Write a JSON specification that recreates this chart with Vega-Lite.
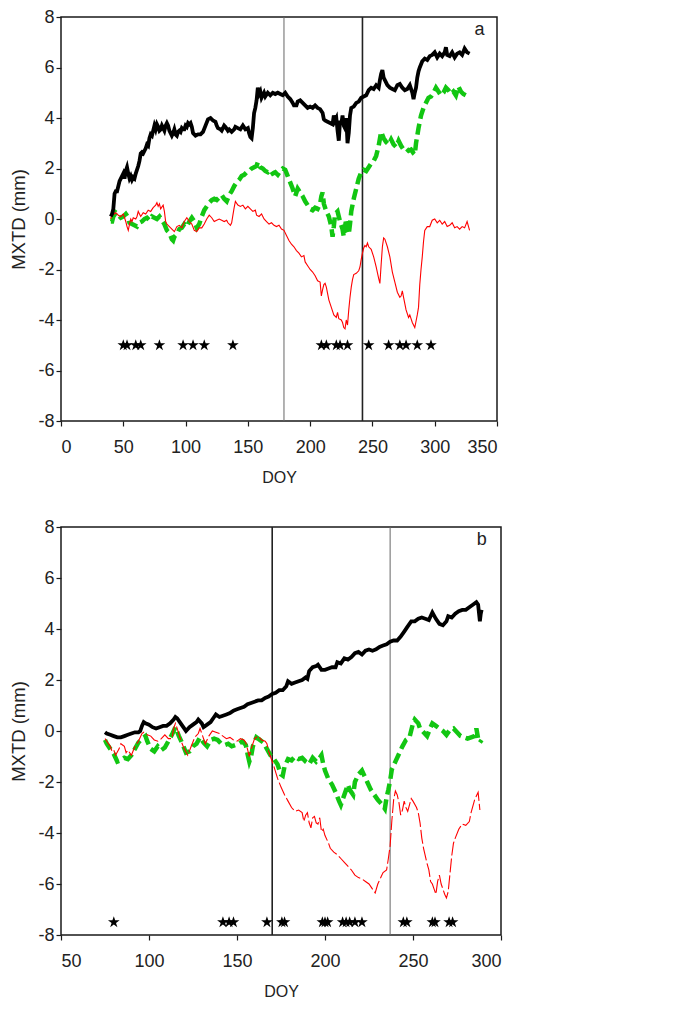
{
  "$schema": "https://vega.github.io/schema/vega-lite/v6.json",
  "background": "white",
  "padding": {"left": 9, "top": 7, "right": 5, "bottom": 5},
  "spacing": 31,
  "resolve": {"scale": {"x": "independent", "y": "independent"}},
  "config": {
    "view": {"stroke": "#1a1a1a", "strokeWidth": 1.5},
    "axis": {"grid": false, "domain": false, "tickColor": "#1a1a1a", "tickSize": 5, "tickWidth": 1.2,
      "labelFont": "Liberation Sans", "labelFontSize": 18, "labelColor": "#222",
      "labelExpr": "replace(datum.label, '−', '-')",
      "titleFont": "Liberation Sans", "titleFontWeight": "normal", "titleColor": "#222"},
    "axisX": {"labelPadding": 12, "titlePadding": 13, "titleFontSize": 16},
    "axisY": {"labelPadding": 2, "titlePadding": 9, "titleFontSize": 18.5}
  },
  "datasets": {
    "a_black": [{"doy":40,"v":0.1},{"doy":41,"v":0.2},{"doy":42,"v":0.4},{"doy":43,"v":1.0},{"doy":44,"v":1.1},{"doy":45,"v":1.1},{"doy":46,"v":1.3},{"doy":47,"v":1.5},{"doy":48,"v":1.6},{"doy":49,"v":1.7},{"doy":50,"v":1.8},{"doy":51,"v":1.6},{"doy":52,"v":1.9},{"doy":53,"v":2.05},{"doy":54,"v":1.8},{"doy":55,"v":1.6},{"doy":56,"v":1.7},{"doy":57,"v":1.55},{"doy":58,"v":1.65},{"doy":59,"v":1.6},{"doy":60,"v":1.8},{"doy":62,"v":2.1},{"doy":63,"v":2.3},{"doy":64,"v":2.6},{"doy":65,"v":2.65},{"doy":66,"v":2.6},{"doy":68,"v":2.8},{"doy":69,"v":2.95},{"doy":70,"v":2.9},{"doy":71,"v":3.2},{"doy":72,"v":3.35},{"doy":73,"v":3.3},{"doy":74,"v":3.5},{"doy":75,"v":3.7},{"doy":76,"v":3.55},{"doy":77,"v":3.75},{"doy":78,"v":3.65},{"doy":79,"v":3.5},{"doy":80,"v":3.55},{"doy":81,"v":3.7},{"doy":82,"v":3.6},{"doy":83,"v":3.5},{"doy":84,"v":3.7},{"doy":85,"v":3.8},{"doy":86,"v":3.7},{"doy":87,"v":3.5},{"doy":88,"v":3.4},{"doy":89,"v":3.3},{"doy":90,"v":3.4},{"doy":91,"v":3.55},{"doy":92,"v":3.35},{"doy":93,"v":3.3},{"doy":94,"v":3.45},{"doy":95,"v":3.5},{"doy":96,"v":3.45},{"doy":97,"v":3.6},{"doy":98,"v":3.55},{"doy":99,"v":3.55},{"doy":100,"v":3.7},{"doy":101,"v":3.65},{"doy":102,"v":3.8},{"doy":103,"v":3.75},{"doy":104,"v":3.8},{"doy":105,"v":3.65},{"doy":106,"v":3.4},{"doy":107,"v":3.35},{"doy":108,"v":3.3},{"doy":110,"v":3.35},{"doy":112,"v":3.35},{"doy":114,"v":3.45},{"doy":116,"v":3.7},{"doy":118,"v":3.95},{"doy":120,"v":4.0},{"doy":122,"v":3.9},{"doy":124,"v":3.85},{"doy":125,"v":3.7},{"doy":126,"v":3.6},{"doy":128,"v":3.55},{"doy":129,"v":3.5},{"doy":131,"v":3.7},{"doy":132,"v":3.65},{"doy":134,"v":3.5},{"doy":135,"v":3.55},{"doy":137,"v":3.45},{"doy":139,"v":3.55},{"doy":140,"v":3.65},{"doy":142,"v":3.6},{"doy":144,"v":3.55},{"doy":146,"v":3.7},{"doy":148,"v":3.55},{"doy":150,"v":3.6},{"doy":151,"v":3.4},{"doy":152,"v":3.25},{"doy":153,"v":3.2},{"doy":154,"v":3.6},{"doy":155,"v":4.2},{"doy":156,"v":4.4},{"doy":157,"v":4.7},{"doy":158,"v":5.2},{"doy":159,"v":4.95},{"doy":160,"v":5.05},{"doy":161,"v":4.8},{"doy":162,"v":4.9},{"doy":163,"v":5.0},{"doy":164,"v":4.85},{"doy":166,"v":5.0},{"doy":168,"v":4.9},{"doy":170,"v":5.0},{"doy":172,"v":4.95},{"doy":174,"v":5.0},{"doy":176,"v":4.95},{"doy":178,"v":4.9},{"doy":180,"v":5.0},{"doy":182,"v":4.85},{"doy":184,"v":4.75},{"doy":186,"v":4.6},{"doy":187,"v":4.5},{"doy":189,"v":4.5},{"doy":190,"v":4.65},{"doy":192,"v":4.7},{"doy":194,"v":4.6},{"doy":196,"v":4.5},{"doy":198,"v":4.4},{"doy":200,"v":4.45},{"doy":202,"v":4.4},{"doy":204,"v":4.5},{"doy":206,"v":4.4},{"doy":208,"v":4.35},{"doy":210,"v":4.2},{"doy":211,"v":3.95},{"doy":212,"v":3.9},{"doy":214,"v":3.85},{"doy":216,"v":3.8},{"doy":218,"v":3.75},{"doy":219,"v":4.1},{"doy":220,"v":3.9},{"doy":221,"v":4.0},{"doy":222,"v":3.5},{"doy":223,"v":3.1},{"doy":224,"v":3.9},{"doy":225,"v":3.75},{"doy":226,"v":4.1},{"doy":227,"v":3.7},{"doy":228,"v":3.6},{"doy":229,"v":4.0},{"doy":230,"v":3.0},{"doy":231,"v":3.4},{"doy":232,"v":4.1},{"doy":233,"v":4.4},{"doy":235,"v":4.45},{"doy":237,"v":4.6},{"doy":239,"v":4.65},{"doy":241,"v":4.8},{"doy":243,"v":4.85},{"doy":245,"v":4.9},{"doy":247,"v":5.1},{"doy":249,"v":5.2},{"doy":251,"v":5.15},{"doy":253,"v":5.3},{"doy":255,"v":5.2},{"doy":256,"v":5.5},{"doy":257,"v":5.75},{"doy":258,"v":5.9},{"doy":259,"v":5.6},{"doy":260,"v":5.5},{"doy":262,"v":5.3},{"doy":264,"v":5.2},{"doy":266,"v":5.15},{"doy":268,"v":5.1},{"doy":270,"v":5.3},{"doy":272,"v":5.35},{"doy":274,"v":5.2},{"doy":276,"v":5.1},{"doy":278,"v":5.15},{"doy":280,"v":5.3},{"doy":282,"v":5.0},{"doy":283,"v":4.75},{"doy":284,"v":5.0},{"doy":285,"v":5.2},{"doy":286,"v":5.6},{"doy":287,"v":5.85},{"doy":288,"v":6.0},{"doy":290,"v":6.25},{"doy":292,"v":6.35},{"doy":294,"v":6.3},{"doy":296,"v":6.45},{"doy":298,"v":6.5},{"doy":300,"v":6.6},{"doy":302,"v":6.4},{"doy":304,"v":6.55},{"doy":306,"v":6.45},{"doy":308,"v":6.6},{"doy":309,"v":6.8},{"doy":310,"v":6.5},{"doy":312,"v":6.45},{"doy":314,"v":6.6},{"doy":316,"v":6.4},{"doy":318,"v":6.55},{"doy":320,"v":6.6},{"doy":322,"v":6.5},{"doy":324,"v":6.75},{"doy":326,"v":6.6},{"doy":328,"v":6.55}],
    "a_green": [{"doy":40,"v":-0.1},{"doy":41,"v":-0.1},{"doy":42,"v":0.1},{"doy":44,"v":0.25},{"doy":46,"v":0.15},{"doy":48,"v":0.05},{"doy":50,"v":0.1},{"doy":52,"v":0.2},{"doy":54,"v":0.05},{"doy":55,"v":-0.15},{"doy":57,"v":-0.2},{"doy":59,"v":-0.25},{"doy":61,"v":-0.3},{"doy":63,"v":-0.15},{"doy":65,"v":-0.1},{"doy":67,"v":0.0},{"doy":69,"v":0.05},{"doy":71,"v":-0.05},{"doy":73,"v":0.1},{"doy":75,"v":0.05},{"doy":77,"v":0.0},{"doy":79,"v":0.1},{"doy":81,"v":-0.05},{"doy":83,"v":-0.2},{"doy":85,"v":-0.45},{"doy":87,"v":-0.55},{"doy":89,"v":-0.8},{"doy":90,"v":-0.85},{"doy":91,"v":-0.7},{"doy":93,"v":-0.6},{"doy":95,"v":-0.4},{"doy":97,"v":-0.35},{"doy":99,"v":-0.2},{"doy":101,"v":-0.3},{"doy":103,"v":-0.1},{"doy":105,"v":0.05},{"doy":107,"v":-0.1},{"doy":109,"v":-0.35},{"doy":111,"v":-0.2},{"doy":113,"v":0.1},{"doy":115,"v":0.35},{"doy":117,"v":0.5},{"doy":119,"v":0.65},{"doy":121,"v":0.75},{"doy":123,"v":0.8},{"doy":125,"v":0.75},{"doy":127,"v":0.85},{"doy":129,"v":0.95},{"doy":131,"v":0.8},{"doy":133,"v":0.7},{"doy":135,"v":0.95},{"doy":137,"v":1.1},{"doy":139,"v":1.3},{"doy":141,"v":1.45},{"doy":143,"v":1.55},{"doy":145,"v":1.7},{"doy":147,"v":1.75},{"doy":149,"v":1.85},{"doy":151,"v":1.9},{"doy":153,"v":2.0},{"doy":155,"v":2.05},{"doy":157,"v":2.1},{"doy":158,"v":2.25},{"doy":160,"v":2.05},{"doy":162,"v":2.0},{"doy":164,"v":1.9},{"doy":166,"v":1.85},{"doy":168,"v":1.95},{"doy":170,"v":1.8},{"doy":172,"v":1.85},{"doy":174,"v":1.75},{"doy":176,"v":1.9},{"doy":178,"v":2.0},{"doy":180,"v":1.95},{"doy":182,"v":1.7},{"doy":184,"v":1.45},{"doy":186,"v":1.2},{"doy":188,"v":0.9},{"doy":190,"v":1.2},{"doy":192,"v":1.05},{"doy":194,"v":0.9},{"doy":196,"v":0.7},{"doy":198,"v":0.55},{"doy":200,"v":0.4},{"doy":202,"v":0.35},{"doy":204,"v":0.45},{"doy":206,"v":0.4},{"doy":208,"v":0.6},{"doy":209,"v":0.9},{"doy":210,"v":1.05},{"doy":211,"v":0.6},{"doy":213,"v":0.3},{"doy":215,"v":0.1},{"doy":217,"v":-0.3},{"doy":218,"v":-0.7},{"doy":219,"v":-0.3},{"doy":220,"v":0.2},{"doy":222,"v":0.3},{"doy":223,"v":0.1},{"doy":224,"v":-0.1},{"doy":226,"v":-0.4},{"doy":227,"v":-0.7},{"doy":228,"v":-0.3},{"doy":229,"v":0.0},{"doy":230,"v":-0.4},{"doy":231,"v":-0.6},{"doy":232,"v":-0.2},{"doy":233,"v":0.3},{"doy":235,"v":0.8},{"doy":237,"v":1.2},{"doy":239,"v":1.6},{"doy":241,"v":1.85},{"doy":243,"v":1.95},{"doy":245,"v":1.9},{"doy":247,"v":2.05},{"doy":249,"v":2.2},{"doy":251,"v":2.3},{"doy":253,"v":2.5},{"doy":255,"v":2.9},{"doy":257,"v":3.45},{"doy":259,"v":3.2},{"doy":261,"v":3.05},{"doy":263,"v":2.95},{"doy":265,"v":3.15},{"doy":267,"v":2.95},{"doy":269,"v":2.85},{"doy":271,"v":3.1},{"doy":273,"v":2.9},{"doy":275,"v":2.75},{"doy":277,"v":2.8},{"doy":279,"v":2.7},{"doy":281,"v":2.75},{"doy":283,"v":2.6},{"doy":284,"v":2.55},{"doy":285,"v":3.0},{"doy":287,"v":3.6},{"doy":289,"v":4.1},{"doy":291,"v":4.4},{"doy":293,"v":4.6},{"doy":295,"v":4.8},{"doy":297,"v":4.85},{"doy":299,"v":5.0},{"doy":301,"v":5.2},{"doy":303,"v":5.05},{"doy":305,"v":4.9},{"doy":307,"v":5.0},{"doy":309,"v":5.2},{"doy":311,"v":5.1},{"doy":313,"v":4.95},{"doy":315,"v":5.05},{"doy":317,"v":4.9},{"doy":319,"v":5.25},{"doy":321,"v":5.05},{"doy":323,"v":4.95},{"doy":325,"v":4.9},{"doy":327,"v":4.85},{"doy":328,"v":4.85}],
    "a_red": [{"doy":40,"v":0.0},{"doy":41,"v":0.2},{"doy":42,"v":0.3},{"doy":43,"v":0.2},{"doy":44,"v":0.25},{"doy":46,"v":0.15},{"doy":48,"v":0.1},{"doy":50,"v":0.2},{"doy":51,"v":0.05},{"doy":52,"v":-0.1},{"doy":53,"v":-0.3},{"doy":54,"v":-0.45},{"doy":55,"v":-0.2},{"doy":56,"v":0.0},{"doy":57,"v":-0.1},{"doy":58,"v":0.05},{"doy":60,"v":0.0},{"doy":61,"v":0.1},{"doy":62,"v":0.3},{"doy":63,"v":0.2},{"doy":64,"v":0.1},{"doy":66,"v":0.25},{"doy":68,"v":0.2},{"doy":70,"v":0.35},{"doy":72,"v":0.3},{"doy":74,"v":0.45},{"doy":76,"v":0.55},{"doy":77,"v":0.65},{"doy":78,"v":0.5},{"doy":79,"v":0.6},{"doy":80,"v":0.4},{"doy":82,"v":0.55},{"doy":83,"v":0.3},{"doy":84,"v":-0.1},{"doy":85,"v":-0.2},{"doy":87,"v":-0.3},{"doy":89,"v":-0.4},{"doy":91,"v":-0.5},{"doy":93,"v":-0.3},{"doy":95,"v":-0.25},{"doy":97,"v":-0.35},{"doy":99,"v":-0.1},{"doy":101,"v":0.05},{"doy":103,"v":-0.1},{"doy":105,"v":-0.2},{"doy":107,"v":-0.45},{"doy":109,"v":-0.5},{"doy":111,"v":-0.35},{"doy":113,"v":-0.35},{"doy":115,"v":-0.2},{"doy":117,"v":0.0},{"doy":119,"v":0.15},{"doy":121,"v":0.05},{"doy":123,"v":-0.1},{"doy":125,"v":-0.05},{"doy":127,"v":0.0},{"doy":129,"v":-0.05},{"doy":131,"v":-0.1},{"doy":133,"v":-0.05},{"doy":134,"v":-0.15},{"doy":136,"v":-0.25},{"doy":137,"v":-0.15},{"doy":138,"v":0.15},{"doy":139,"v":0.45},{"doy":140,"v":0.7},{"doy":142,"v":0.55},{"doy":144,"v":0.5},{"doy":146,"v":0.55},{"doy":148,"v":0.4},{"doy":150,"v":0.5},{"doy":152,"v":0.4},{"doy":154,"v":0.3},{"doy":156,"v":0.35},{"doy":157,"v":0.15},{"doy":159,"v":0.1},{"doy":161,"v":0.2},{"doy":163,"v":0.0},{"doy":165,"v":-0.1},{"doy":167,"v":-0.2},{"doy":169,"v":-0.15},{"doy":171,"v":-0.25},{"doy":173,"v":-0.3},{"doy":175,"v":-0.25},{"doy":177,"v":-0.4},{"doy":179,"v":-0.45},{"doy":181,"v":-0.65},{"doy":183,"v":-0.85},{"doy":185,"v":-1.0},{"doy":187,"v":-1.1},{"doy":189,"v":-1.25},{"doy":191,"v":-1.35},{"doy":193,"v":-1.5},{"doy":195,"v":-1.45},{"doy":196,"v":-1.7},{"doy":198,"v":-1.85},{"doy":200,"v":-2.0},{"doy":202,"v":-2.1},{"doy":204,"v":-2.25},{"doy":206,"v":-2.45},{"doy":208,"v":-2.5},{"doy":209,"v":-3.05},{"doy":210,"v":-2.8},{"doy":211,"v":-2.6},{"doy":212,"v":-2.55},{"doy":213,"v":-2.7},{"doy":215,"v":-3.2},{"doy":217,"v":-3.5},{"doy":219,"v":-3.8},{"doy":221,"v":-3.9},{"doy":222,"v":-3.7},{"doy":223,"v":-3.95},{"doy":225,"v":-4.0},{"doy":226,"v":-4.1},{"doy":227,"v":-4.3},{"doy":228,"v":-4.35},{"doy":229,"v":-4.0},{"doy":230,"v":-4.2},{"doy":231,"v":-3.6},{"doy":232,"v":-3.1},{"doy":233,"v":-2.7},{"doy":234,"v":-2.4},{"doy":235,"v":-2.2},{"doy":237,"v":-2.15},{"doy":239,"v":-2.05},{"doy":240,"v":-1.9},{"doy":241,"v":-1.6},{"doy":242,"v":-1.35},{"doy":243,"v":-1.15},{"doy":244,"v":-1.05},{"doy":245,"v":-1.1},{"doy":246,"v":-0.95},{"doy":247,"v":-1.1},{"doy":249,"v":-1.2},{"doy":251,"v":-1.5},{"doy":253,"v":-1.9},{"doy":255,"v":-2.35},{"doy":256,"v":-2.55},{"doy":257,"v":-1.8},{"doy":258,"v":-1.1},{"doy":259,"v":-0.75},{"doy":260,"v":-0.8},{"doy":262,"v":-1.1},{"doy":264,"v":-1.5},{"doy":266,"v":-2.1},{"doy":268,"v":-2.5},{"doy":270,"v":-2.9},{"doy":272,"v":-3.1},{"doy":273,"v":-3.05},{"doy":274,"v":-2.85},{"doy":275,"v":-3.1},{"doy":277,"v":-3.6},{"doy":279,"v":-3.9},{"doy":280,"v":-3.8},{"doy":282,"v":-4.1},{"doy":284,"v":-4.3},{"doy":285,"v":-4.05},{"doy":286,"v":-3.8},{"doy":287,"v":-3.5},{"doy":288,"v":-2.6},{"doy":289,"v":-2.0},{"doy":290,"v":-1.5},{"doy":291,"v":-0.9},{"doy":292,"v":-0.45},{"doy":294,"v":-0.3},{"doy":296,"v":-0.3},{"doy":298,"v":-0.05},{"doy":300,"v":0.0},{"doy":302,"v":-0.15},{"doy":304,"v":-0.05},{"doy":306,"v":-0.2},{"doy":308,"v":-0.1},{"doy":310,"v":-0.3},{"doy":312,"v":-0.25},{"doy":314,"v":-0.15},{"doy":316,"v":-0.35},{"doy":318,"v":-0.3},{"doy":320,"v":-0.4},{"doy":322,"v":-0.3},{"doy":324,"v":-0.35},{"doy":326,"v":-0.1},{"doy":328,"v":-0.45}],
    "a_stars": [{"doy":50,"v":-5},{"doy":53,"v":-5},{"doy":60,"v":-5},{"doy":64,"v":-5},{"doy":79,"v":-5},{"doy":98,"v":-5},{"doy":106,"v":-5},{"doy":115,"v":-5},{"doy":138,"v":-5},{"doy":209,"v":-5},{"doy":213,"v":-5},{"doy":221,"v":-5},{"doy":224,"v":-5},{"doy":230,"v":-5},{"doy":247,"v":-5},{"doy":263,"v":-5},{"doy":272,"v":-5},{"doy":277,"v":-5},{"doy":286,"v":-5},{"doy":297,"v":-5}],
    "b_black": [{"doy":75,"v":-0.05},{"doy":76,"v":-0.1},{"doy":78,"v":-0.15},{"doy":80,"v":-0.2},{"doy":82,"v":-0.25},{"doy":84,"v":-0.25},{"doy":86,"v":-0.2},{"doy":88,"v":-0.15},{"doy":90,"v":-0.1},{"doy":92,"v":-0.05},{"doy":94,"v":-0.05},{"doy":95,"v":0.0},{"doy":96,"v":0.2},{"doy":97,"v":0.35},{"doy":98,"v":0.3},{"doy":100,"v":0.25},{"doy":102,"v":0.15},{"doy":104,"v":0.1},{"doy":106,"v":0.15},{"doy":108,"v":0.2},{"doy":110,"v":0.2},{"doy":112,"v":0.3},{"doy":114,"v":0.45},{"doy":115,"v":0.55},{"doy":116,"v":0.5},{"doy":118,"v":0.3},{"doy":120,"v":0.1},{"doy":121,"v":0.0},{"doy":123,"v":0.15},{"doy":125,"v":0.25},{"doy":127,"v":0.35},{"doy":128,"v":0.45},{"doy":130,"v":0.3},{"doy":131,"v":0.15},{"doy":133,"v":0.25},{"doy":135,"v":0.35},{"doy":137,"v":0.55},{"doy":138,"v":0.65},{"doy":140,"v":0.55},{"doy":142,"v":0.6},{"doy":144,"v":0.65},{"doy":146,"v":0.7},{"doy":148,"v":0.8},{"doy":150,"v":0.85},{"doy":152,"v":0.9},{"doy":154,"v":0.95},{"doy":156,"v":1.05},{"doy":158,"v":1.1},{"doy":160,"v":1.15},{"doy":162,"v":1.2},{"doy":164,"v":1.2},{"doy":166,"v":1.3},{"doy":168,"v":1.35},{"doy":170,"v":1.45},{"doy":172,"v":1.5},{"doy":174,"v":1.6},{"doy":176,"v":1.6},{"doy":178,"v":1.75},{"doy":179,"v":1.95},{"doy":181,"v":1.85},{"doy":183,"v":1.9},{"doy":185,"v":1.95},{"doy":187,"v":2.0},{"doy":189,"v":2.1},{"doy":190,"v":2.05},{"doy":191,"v":2.35},{"doy":193,"v":2.5},{"doy":195,"v":2.55},{"doy":196,"v":2.6},{"doy":198,"v":2.4},{"doy":200,"v":2.4},{"doy":202,"v":2.45},{"doy":204,"v":2.5},{"doy":206,"v":2.5},{"doy":207,"v":2.7},{"doy":209,"v":2.65},{"doy":211,"v":2.85},{"doy":213,"v":2.8},{"doy":215,"v":2.9},{"doy":217,"v":3.05},{"doy":219,"v":3.1},{"doy":221,"v":3.0},{"doy":223,"v":3.15},{"doy":225,"v":3.2},{"doy":227,"v":3.15},{"doy":229,"v":3.2},{"doy":231,"v":3.3},{"doy":233,"v":3.35},{"doy":235,"v":3.4},{"doy":237,"v":3.5},{"doy":239,"v":3.55},{"doy":241,"v":3.55},{"doy":243,"v":3.7},{"doy":245,"v":3.9},{"doy":247,"v":4.1},{"doy":249,"v":4.3},{"doy":251,"v":4.3},{"doy":253,"v":4.4},{"doy":255,"v":4.45},{"doy":257,"v":4.4},{"doy":259,"v":4.35},{"doy":260,"v":4.5},{"doy":261,"v":4.65},{"doy":263,"v":4.4},{"doy":265,"v":4.2},{"doy":267,"v":4.15},{"doy":269,"v":4.3},{"doy":270,"v":4.5},{"doy":272,"v":4.45},{"doy":274,"v":4.6},{"doy":276,"v":4.7},{"doy":278,"v":4.75},{"doy":280,"v":4.75},{"doy":282,"v":4.85},{"doy":284,"v":4.95},{"doy":286,"v":5.05},{"doy":287,"v":4.95},{"doy":288,"v":4.3},{"doy":288.5,"v":4.6},{"doy":289,"v":4.75}],
    "b_green": [{"doy":75,"v":-0.35},{"doy":76,"v":-0.5},{"doy":78,"v":-0.7},{"doy":80,"v":-0.9},{"doy":82,"v":-1.2},{"doy":84,"v":-1.15},{"doy":86,"v":-1.05},{"doy":88,"v":-1.1},{"doy":90,"v":-0.95},{"doy":92,"v":-0.7},{"doy":94,"v":-0.45},{"doy":96,"v":-0.3},{"doy":98,"v":-0.2},{"doy":99,"v":-0.4},{"doy":101,"v":-0.7},{"doy":103,"v":-0.8},{"doy":105,"v":-0.6},{"doy":107,"v":-0.75},{"doy":109,"v":-0.65},{"doy":111,"v":-0.4},{"doy":113,"v":-0.15},{"doy":115,"v":0.15},{"doy":117,"v":-0.2},{"doy":119,"v":-0.5},{"doy":121,"v":-0.85},{"doy":123,"v":-0.8},{"doy":125,"v":-0.6},{"doy":127,"v":-0.5},{"doy":129,"v":-0.25},{"doy":131,"v":-0.45},{"doy":133,"v":-0.6},{"doy":135,"v":-0.35},{"doy":137,"v":-0.3},{"doy":139,"v":-0.35},{"doy":141,"v":-0.5},{"doy":143,"v":-0.55},{"doy":145,"v":-0.5},{"doy":147,"v":-0.6},{"doy":149,"v":-0.55},{"doy":151,"v":-0.5},{"doy":153,"v":-0.4},{"doy":155,"v":-0.55},{"doy":156,"v":-0.9},{"doy":157,"v":-1.2},{"doy":158,"v":-1.0},{"doy":159,"v":-0.6},{"doy":161,"v":-0.25},{"doy":163,"v":-0.35},{"doy":165,"v":-0.45},{"doy":167,"v":-0.7},{"doy":169,"v":-0.95},{"doy":171,"v":-1.1},{"doy":173,"v":-1.3},{"doy":175,"v":-1.7},{"doy":176,"v":-1.75},{"doy":177,"v":-1.4},{"doy":179,"v":-1.1},{"doy":181,"v":-1.15},{"doy":183,"v":-1.0},{"doy":185,"v":-1.1},{"doy":187,"v":-1.05},{"doy":189,"v":-1.2},{"doy":191,"v":-1.3},{"doy":193,"v":-1.05},{"doy":195,"v":-1.2},{"doy":197,"v":-1.05},{"doy":198,"v":-0.95},{"doy":199,"v":-1.3},{"doy":200,"v":-1.55},{"doy":202,"v":-1.9},{"doy":204,"v":-2.1},{"doy":206,"v":-2.4},{"doy":208,"v":-2.75},{"doy":209,"v":-2.9},{"doy":211,"v":-2.5},{"doy":213,"v":-2.1},{"doy":214,"v":-2.3},{"doy":216,"v":-2.5},{"doy":217,"v":-2.0},{"doy":219,"v":-1.7},{"doy":221,"v":-1.55},{"doy":222,"v":-1.7},{"doy":224,"v":-2.0},{"doy":226,"v":-2.3},{"doy":228,"v":-2.5},{"doy":230,"v":-2.7},{"doy":232,"v":-2.85},{"doy":234,"v":-3.05},{"doy":235,"v":-2.6},{"doy":236,"v":-2.3},{"doy":237,"v":-1.95},{"doy":238,"v":-1.5},{"doy":240,"v":-1.2},{"doy":242,"v":-0.9},{"doy":244,"v":-0.6},{"doy":246,"v":-0.35},{"doy":248,"v":-0.25},{"doy":250,"v":0.3},{"doy":251,"v":0.45},{"doy":253,"v":0.3},{"doy":254,"v":0.1},{"doy":256,"v":-0.05},{"doy":258,"v":-0.2},{"doy":260,"v":0.15},{"doy":261,"v":0.3},{"doy":263,"v":0.2},{"doy":265,"v":0.1},{"doy":267,"v":0.0},{"doy":269,"v":-0.15},{"doy":271,"v":0.05},{"doy":273,"v":0.1},{"doy":275,"v":-0.05},{"doy":277,"v":-0.2},{"doy":279,"v":-0.25},{"doy":281,"v":-0.3},{"doy":283,"v":-0.25},{"doy":285,"v":-0.2},{"doy":286,"v":0.1},{"doy":287,"v":-0.3},{"doy":288,"v":-0.45},{"doy":289,"v":-0.35}],
    "b_red": [{"doy":75,"v":-0.3},{"doy":76,"v":-0.4},{"doy":78,"v":-0.6},{"doy":79,"v":-0.8},{"doy":80,"v":-0.75},{"doy":81,"v":-0.95},{"doy":83,"v":-0.7},{"doy":84,"v":-0.5},{"doy":86,"v":-0.6},{"doy":87,"v":-0.85},{"doy":88,"v":-0.75},{"doy":90,"v":-0.95},{"doy":92,"v":-0.6},{"doy":94,"v":-0.4},{"doy":96,"v":-0.1},{"doy":97,"v":-0.05},{"doy":99,"v":-0.15},{"doy":101,"v":-0.2},{"doy":103,"v":-0.35},{"doy":105,"v":-0.4},{"doy":107,"v":-0.3},{"doy":109,"v":-0.15},{"doy":111,"v":-0.3},{"doy":113,"v":-0.3},{"doy":114,"v":0.1},{"doy":115,"v":0.3},{"doy":116,"v":0.1},{"doy":118,"v":-0.35},{"doy":120,"v":-0.7},{"doy":122,"v":-0.95},{"doy":124,"v":-0.6},{"doy":126,"v":-0.25},{"doy":128,"v":-0.1},{"doy":129,"v":0.1},{"doy":130,"v":-0.1},{"doy":132,"v":-0.5},{"doy":134,"v":-0.2},{"doy":136,"v":0.0},{"doy":138,"v":-0.05},{"doy":140,"v":-0.1},{"doy":142,"v":-0.2},{"doy":144,"v":-0.3},{"doy":146,"v":-0.25},{"doy":148,"v":-0.35},{"doy":150,"v":-0.4},{"doy":152,"v":-0.3},{"doy":154,"v":-0.35},{"doy":155,"v":-0.45},{"doy":157,"v":-1.0},{"doy":158,"v":-0.7},{"doy":160,"v":-0.3},{"doy":162,"v":-0.2},{"doy":164,"v":-0.35},{"doy":166,"v":-0.4},{"doy":167,"v":-0.5},{"doy":168,"v":-0.8},{"doy":169,"v":-1.0},{"doy":171,"v":-1.4},{"doy":173,"v":-1.85},{"doy":175,"v":-2.2},{"doy":177,"v":-2.5},{"doy":179,"v":-2.75},{"doy":181,"v":-3.0},{"doy":183,"v":-3.15},{"doy":185,"v":-3.1},{"doy":187,"v":-3.2},{"doy":188,"v":-3.55},{"doy":189,"v":-3.3},{"doy":190,"v":-3.2},{"doy":191,"v":-3.6},{"doy":192,"v":-3.8},{"doy":193,"v":-3.4},{"doy":194,"v":-3.35},{"doy":195,"v":-3.6},{"doy":196,"v":-3.65},{"doy":197,"v":-3.4},{"doy":198,"v":-3.95},{"doy":199,"v":-3.85},{"doy":200,"v":-4.1},{"doy":202,"v":-4.4},{"doy":203,"v":-4.6},{"doy":205,"v":-4.75},{"doy":207,"v":-4.85},{"doy":209,"v":-5.0},{"doy":211,"v":-5.15},{"doy":213,"v":-5.3},{"doy":215,"v":-5.45},{"doy":217,"v":-5.65},{"doy":219,"v":-5.75},{"doy":221,"v":-5.8},{"doy":223,"v":-5.9},{"doy":225,"v":-6.0},{"doy":227,"v":-6.2},{"doy":228.5,"v":-6.35},{"doy":230,"v":-6.0},{"doy":232,"v":-5.7},{"doy":233,"v":-5.55},{"doy":235,"v":-5.45},{"doy":236,"v":-5.0},{"doy":237,"v":-4.5},{"doy":238,"v":-3.5},{"doy":239,"v":-2.7},{"doy":240,"v":-2.35},{"doy":241,"v":-2.5},{"doy":242,"v":-2.8},{"doy":243,"v":-3.3},{"doy":244,"v":-3.1},{"doy":245,"v":-2.75},{"doy":246,"v":-3.0},{"doy":247,"v":-3.15},{"doy":248,"v":-2.9},{"doy":249,"v":-2.65},{"doy":250,"v":-2.75},{"doy":252,"v":-3.0},{"doy":253,"v":-3.2},{"doy":254,"v":-3.6},{"doy":255,"v":-4.2},{"doy":256,"v":-4.6},{"doy":258,"v":-5.2},{"doy":259,"v":-5.45},{"doy":260,"v":-5.9},{"doy":261,"v":-6.0},{"doy":262,"v":-6.2},{"doy":263,"v":-6.4},{"doy":264,"v":-5.9},{"doy":265,"v":-5.65},{"doy":266,"v":-6.0},{"doy":267,"v":-6.2},{"doy":268,"v":-6.4},{"doy":269,"v":-6.55},{"doy":270,"v":-6.3},{"doy":271,"v":-5.6},{"doy":272,"v":-4.9},{"doy":273,"v":-4.4},{"doy":274,"v":-4.2},{"doy":276,"v":-3.85},{"doy":278,"v":-3.65},{"doy":280,"v":-3.7},{"doy":282,"v":-3.55},{"doy":283,"v":-3.2},{"doy":285,"v":-2.7},{"doy":286,"v":-2.55},{"doy":287,"v":-2.4},{"doy":288,"v":-3.1}],
    "b_stars": [{"doy":80,"v":-7.5},{"doy":142,"v":-7.5},{"doy":145.5,"v":-7.5},{"doy":148,"v":-7.5},{"doy":167,"v":-7.5},{"doy":175.5,"v":-7.5},{"doy":177,"v":-7.5},{"doy":198.5,"v":-7.5},{"doy":200,"v":-7.5},{"doy":201.5,"v":-7.5},{"doy":210,"v":-7.5},{"doy":212,"v":-7.5},{"doy":214,"v":-7.5},{"doy":217,"v":-7.5},{"doy":221,"v":-7.5},{"doy":244.5,"v":-7.5},{"doy":246.5,"v":-7.5},{"doy":261,"v":-7.5},{"doy":262.5,"v":-7.5},{"doy":270.5,"v":-7.5},{"doy":272.5,"v":-7.5}]
  },
  "vconcat": [
    {
      "width": 436, "height": 404,
      "encoding": {
        "x": {"field": "doy", "type": "quantitative", "scale": {"domain": [0, 350], "nice": false, "zero": false},
              "axis": {"title": "DOY", "values": [0, 50, 100, 150, 200, 250, 300, 350]}},
        "y": {"field": "v", "type": "quantitative", "scale": {"domain": [-8, 8], "nice": false, "zero": false},
              "axis": {"title": "MXTD (mm)", "values": [-8, -6, -4, -2, 0, 2, 4, 6, 8]}}
      },
      "layer": [
        {"data": {"values": [{"doy": 179}]}, "mark": {"type": "rule", "color": "#666", "strokeWidth": 1}, "encoding": {"x": {"field": "doy", "type": "quantitative"}, "y": null}},
        {"data": {"values": [{"doy": 242}]}, "mark": {"type": "rule", "color": "#222", "strokeWidth": 1.6}, "encoding": {"x": {"field": "doy", "type": "quantitative"}, "y": null}},
        {"data": {"name": "a_green"}, "mark": {"type": "line", "color": "#12c612", "strokeWidth": 4.5, "strokeDash": [11, 5]}},
        {"data": {"name": "a_red"}, "mark": {"type": "line", "color": "#ff0000", "strokeWidth": 1.1}},
        {"data": {"name": "a_black"}, "mark": {"type": "line", "color": "#000000", "strokeWidth": 3.8}},
        {"data": {"name": "a_stars"}, "mark": {"type": "point", "filled": true, "color": "#000", "opacity": 1, "size": 150,
          "shape": "M0,-1L0.2245,-0.309L0.951,-0.309L0.363,0.118L0.588,0.809L0,0.382L-0.588,0.809L-0.363,0.118L-0.951,-0.309L-0.2245,-0.309Z"}},
        {"data": {"values": [{"doy": 336, "v": 7.5, "label": "a"}]}, "mark": {"type": "text", "font": "Liberation Sans", "fontSize": 18, "color": "#222"}, "encoding": {"text": {"field": "label"}}}
      ]
    },
    {
      "width": 440, "height": 408,
      "encoding": {
        "x": {"field": "doy", "type": "quantitative", "scale": {"domain": [50, 300], "nice": false, "zero": false},
              "axis": {"title": "DOY", "values": [50, 100, 150, 200, 250, 300]}},
        "y": {"field": "v", "type": "quantitative", "scale": {"domain": [-8, 8], "nice": false, "zero": false},
              "axis": {"title": "MXTD (mm)", "values": [-8, -6, -4, -2, 0, 2, 4, 6, 8]}}
      },
      "layer": [
        {"data": {"values": [{"doy": 170}]}, "mark": {"type": "rule", "color": "#222", "strokeWidth": 1.6}, "encoding": {"x": {"field": "doy", "type": "quantitative"}, "y": null}},
        {"data": {"values": [{"doy": 237}]}, "mark": {"type": "rule", "color": "#666", "strokeWidth": 1}, "encoding": {"x": {"field": "doy", "type": "quantitative"}, "y": null}},
        {"data": {"name": "b_green"}, "mark": {"type": "line", "color": "#12c612", "strokeWidth": 4.5, "strokeDash": [11, 5]}},
        {"data": {"name": "b_red"}, "mark": {"type": "line", "color": "#ff0000", "strokeWidth": 1.1, "strokeDash": [14, 3]}},
        {"data": {"name": "b_black"}, "mark": {"type": "line", "color": "#000000", "strokeWidth": 3.8}},
        {"data": {"name": "b_stars"}, "mark": {"type": "point", "filled": true, "color": "#000", "opacity": 1, "size": 150,
          "shape": "M0,-1L0.2245,-0.309L0.951,-0.309L0.363,0.118L0.588,0.809L0,0.382L-0.588,0.809L-0.363,0.118L-0.951,-0.309L-0.2245,-0.309Z"}},
        {"data": {"values": [{"doy": 289, "v": 7.5, "label": "b"}]}, "mark": {"type": "text", "font": "Liberation Sans", "fontSize": 18, "color": "#222"}, "encoding": {"text": {"field": "label"}}}
      ]
    }
  ]
}
